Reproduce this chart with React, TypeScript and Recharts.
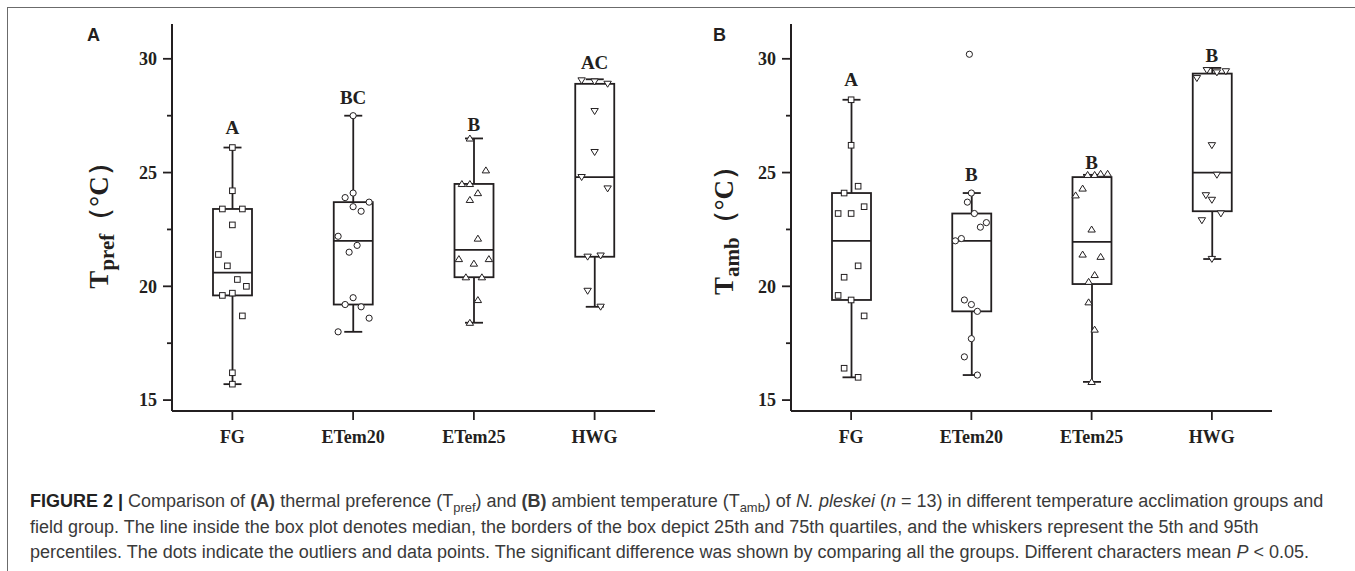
import React from 'react';
import { ComposedChart, Bar, Scatter, XAxis, YAxis } from 'recharts';

// ---------- data ----------
const categories = ['FG', 'ETem20', 'ETem25', 'HWG'];
const yTicks = [15, 17.5, 20, 22.5, 25, 27.5, 30];

// Panel A: thermal preference (Tpref)
const prefLow = [15.7, 18.0, 18.4, 19.1];
const prefQ1 = [19.6, 19.2, 20.4, 21.3];
const prefMedian = [20.6, 22.0, 21.6, 24.8];
const prefQ3 = [23.4, 23.7, 24.5, 28.9];
const prefHigh = [26.1, 27.5, 26.5, 29.1];
const prefLetters = ['A', 'BC', 'B', 'AC'];
const prefLetterY = [27.0, 28.3, 27.1, 29.85];

const fgPref = [26.1, 24.2, 23.4, 23.4, 22.7, 21.4, 20.9, 20.3, 20.0, 19.7, 19.6, 18.7, 16.2, 15.7];
const etem20Pref = [27.5, 24.1, 23.9, 23.7, 23.5, 23.3, 22.2, 21.8, 21.5, 19.5, 19.2, 19.1, 18.6, 18.0];
const etem25Pref = [26.5, 25.1, 24.5, 24.5, 24.1, 23.8, 22.1, 21.2, 21.2, 21.0, 20.4, 20.4, 19.4, 18.4];
const hwgPref = [29.05, 29.0, 28.9, 27.7, 25.9, 24.8, 24.3, 21.3, 21.35, 19.8, 19.1];

// Panel B: ambient temperature (Tamb)
const ambLow = [16.0, 16.1, 15.8, 21.2];
const ambQ1 = [19.4, 18.9, 20.1, 23.3];
const ambMedian = [22.0, 22.0, 21.95, 25.0];
const ambQ3 = [24.1, 23.2, 24.8, 29.35];
const ambHigh = [28.2, 24.1, 24.9, 29.6];
const ambLetters = ['A', 'B', 'B', 'B'];
const ambLetterY = [29.1, 24.9, 25.45, 30.15];

const fgAmb = [28.2, 26.2, 24.4, 24.1, 23.5, 23.2, 23.2, 20.9, 20.4, 19.6, 19.4, 18.7, 16.4, 16.0];
const etem20Amb = [30.2, 24.1, 23.7, 23.2, 22.8, 22.6, 22.1, 22.0, 19.4, 19.2, 18.9, 17.7, 16.9, 16.1];
const etem25Amb = [24.9, 24.9, 24.95, 24.95, 24.3, 24.0, 22.5, 21.4, 21.3, 20.5, 20.2, 19.3, 18.1, 15.8];
const hwgAmb = [29.5, 29.4, 29.45, 29.15, 26.2, 24.9, 24.0, 23.8, 23.2, 22.9, 21.2];

// horizontal jitter of the dots (pixels)
const fgPrefJitter = [0, 0, -10, 10, 0, -14, -5, 5, 14, 0, -10, 10, 0, 0];
const etem20PrefJitter = [0, 0, -8, 16, 0, 8, -15, 4, -4, 0, -8, 8, 16, -15];
const etem25PrefJitter = [-4, 12, -12, -4, 4, -4, 4, -15, 15, 0, -8, 8, 4, -4];
const hwgPrefJitter = [-13, 0, 13, 0, 0, -13, 13, -7, 6, -7, 6];
const fgAmbJitter = [0, 0, 7, -7, 13, -13, 0, 7, -7, -13, 0, 13, -7, 7];
const etem20AmbJitter = [-2, 0, -4, 3, 15, 9, -10, -16, -7, 0, 6, 0, -7, 6];
const etem25AmbJitter = [-4, 3, 9, 16, -9, -16, 0, -9, 9, 3, -3, -3, 3, 0];
const hwgAmbJitter = [-5, 5, 14, -15, 0, 5, -6, 0, 9, -10, 0];

// ---------- styles ----------
const INK = '#231f20';
const SERIF = '"Liberation Serif", "Times New Roman", serif';
const SANS = '"Liberation Sans", Arial, sans-serif';
const Y_DOMAIN: [number, number] = [14.52, 31.53];

type Summary = { group: string; range: number[]; low: number; q1: number; median: number; q3: number; high: number };

function buildSummary(low: number[], q1: number[], med: number[], q3: number[], high: number[]): Summary[] {
  return categories.map((group, i) => ({
    group,
    range: [low[i], high[i]],
    low: low[i],
    q1: q1[i],
    median: med[i],
    q3: q3[i],
    high: high[i],
  }));
}

function buildPoints(group: string, values: number[], jitter: number[]) {
  return values.map((value, i) => ({ group, value, jitter: jitter[i] ?? 0 }));
}

function buildLetters(letters: string[], ys: number[]) {
  return categories.map((group, i) => ({ group, value: ys[i], letter: letters[i] }));
}

const BoxShape = (props: any) => {
  const { x, y, width, height } = props;
  const p = props.payload ?? props;
  const top = Math.min(y, y + height);
  const h = Math.abs(height);
  const yOf = (v: number) => top + (h * (p.high - v)) / (p.high - p.low);
  const cx = x + width / 2;
  const cap = 9;
  return (
    <g stroke={INK} strokeWidth={1.8} fill="none">
      <line x1={cx} x2={cx} y1={yOf(p.high)} y2={yOf(p.q3)} />
      <line x1={cx} x2={cx} y1={yOf(p.q1)} y2={yOf(p.low)} />
      <line x1={cx - cap} x2={cx + cap} y1={yOf(p.high)} y2={yOf(p.high)} />
      <line x1={cx - cap} x2={cx + cap} y1={yOf(p.low)} y2={yOf(p.low)} />
      <rect x={x} y={yOf(p.q3)} width={width} height={yOf(p.q1) - yOf(p.q3)} fill="#fff" />
      <line x1={x} x2={x + width} y1={yOf(p.median)} y2={yOf(p.median)} />
    </g>
  );
};

const makeMarker = (kind: string) => (props: any) => {
  const { cx, cy } = props;
  const p = props.payload ?? props;
  if (cx == null || cy == null) return <g />;
  const x = cx + (p.jitter ?? 0);
  const common = { stroke: INK, strokeWidth: 1, fill: '#fff' };
  if (kind === 'square') return <rect x={x - 2.8} y={cy - 2.8} width={5.6} height={5.6} {...common} />;
  if (kind === 'circle') return <circle cx={x} cy={cy} r={3.1} {...common} />;
  if (kind === 'up')
    return <polygon points={`${x},${cy - 3.4} ${x + 3.7},${cy + 2.6} ${x - 3.7},${cy + 2.6}`} {...common} />;
  return <polygon points={`${x},${cy + 3.4} ${x + 3.7},${cy - 2.6} ${x - 3.7},${cy - 2.6}`} {...common} />;
};

const LetterShape = (props: any) => {
  const { cx, cy } = props;
  const p = props.payload ?? props;
  if (cx == null || cy == null) return <g />;
  return (
    <text x={cx} y={cy} dy="0.35em" textAnchor="middle" fontFamily={SERIF} fontWeight="bold" fontSize={19} fill={INK}>
      {p.letter}
    </text>
  );
};

const YTick = (props: any) => {
  const { x, y, payload } = props;
  const major = payload.value % 5 === 0;
  return (
    <g>
      <line x1={x - (major ? 9 : 5)} x2={x} y1={y} y2={y} stroke={INK} strokeWidth={1.8} />
      {major && (
        <text x={x - 15} y={y} dy="0.35em" textAnchor="end" fontFamily={SERIF} fontWeight="bold" fontSize={18} fill={INK}>
          {payload.value}
        </text>
      )}
    </g>
  );
};

const XTick = (props: any) => {
  const { x, y, payload } = props;
  return (
    <g>
      <line x1={x} x2={x} y1={y} y2={y + 9} stroke={INK} strokeWidth={1.8} />
      <text x={x} y={y + 32} textAnchor="middle" fontFamily={SERIF} fontWeight="bold" fontSize={18} fill={INK}>
        {payload.value}
      </text>
    </g>
  );
};

const AxisTitle = (props: any) => {
  const { sub, bx, cy } = props;
  return (
    <text
      x={bx}
      y={cy}
      transform={`rotate(-90, ${bx}, ${cy})`}
      textAnchor="middle"
      fontFamily={SERIF}
      fontWeight="bold"
      fill={INK}
    >
      <tspan fontSize={27}>T</tspan>
      <tspan fontSize={21} dy={6}>{sub}</tspan>
      <tspan fontSize={27} dy={-6}>（°C）</tspan>
    </text>
  );
};

type PanelProps = {
  width: number;
  yAxisWidth: number;
  marginRight: number;
  summary: Summary[];
  points: { data: any[]; kind: string }[];
  letters: any[];
  sub: string;
  titleX: number;
  titleY: number;
};

const Panel = ({ width, yAxisWidth, marginRight, summary, points, letters, sub, titleX, titleY }: PanelProps) => (
  <ComposedChart
    width={width}
    height={460}
    data={summary}
    margin={{ top: 24, right: marginRight, bottom: 0, left: 0 }}
  >
    <XAxis
      dataKey="group"
      type="category"
      allowDuplicatedCategory={false}
      height={49}
      axisLine={{ stroke: INK, strokeWidth: 2 }}
      tickLine={false}
      tickSize={0}
      tickMargin={0}
      tick={<XTick />}
      interval={0}
    />
    <YAxis
      type="number"
      domain={Y_DOMAIN}
      allowDataOverflow
      ticks={yTicks}
      width={yAxisWidth}
      axisLine={{ stroke: INK, strokeWidth: 2 }}
      tickLine={false}
      tickSize={0}
      tickMargin={0}
      tick={<YTick />}
      interval={0}
      label={<AxisTitle sub={sub} bx={titleX} cy={titleY} />}
    />
    <Bar dataKey="range" barSize={39} shape={<BoxShape />} isAnimationActive={false} />
    {points.map((s, i) => (
      <Scatter key={i} data={s.data} dataKey="value" shape={makeMarker(s.kind)} isAnimationActive={false} />
    ))}
    <Scatter data={letters} dataKey="value" shape={<LetterShape />} isAnimationActive={false} />
  </ComposedChart>
);

const prefSummary = buildSummary(prefLow, prefQ1, prefMedian, prefQ3, prefHigh);
const ambSummary = buildSummary(ambLow, ambQ1, ambMedian, ambQ3, ambHigh);

const prefPoints = [
  { data: buildPoints('FG', fgPref, fgPrefJitter), kind: 'square' },
  { data: buildPoints('ETem20', etem20Pref, etem20PrefJitter), kind: 'circle' },
  { data: buildPoints('ETem25', etem25Pref, etem25PrefJitter), kind: 'up' },
  { data: buildPoints('HWG', hwgPref, hwgPrefJitter), kind: 'down' },
];
const ambPoints = [
  { data: buildPoints('FG', fgAmb, fgAmbJitter), kind: 'square' },
  { data: buildPoints('ETem20', etem20Amb, etem20AmbJitter), kind: 'circle' },
  { data: buildPoints('ETem25', etem25Amb, etem25AmbJitter), kind: 'up' },
  { data: buildPoints('HWG', hwgAmb, hwgAmbJitter), kind: 'down' },
];

const captionStyle: React.CSSProperties = {
  position: 'absolute',
  left: 30,
  whiteSpace: 'nowrap',
  fontFamily: SANS,
  fontSize: 18,
  color: '#3a3a3a',
  lineHeight: '25.5px',
};
const subStyle: React.CSSProperties = { fontSize: '0.72em', lineHeight: 0 };

export default function App() {
  return (
    <div style={{ position: 'relative', width: 1355, height: 571, background: '#fff', overflow: 'hidden' }}>
      <style>{'body{margin:0}'}</style>
      <div
        style={{
          position: 'absolute',
          left: 7,
          top: 7,
          width: 1355,
          height: 571,
          borderTop: '1.5px solid #6b6b6b',
          borderLeft: '1.5px solid #6b6b6b',
        }}
      />
      <div style={{ position: 'absolute', left: 0, top: 0 }}>
        <Panel
          width={665}
          yAxisWidth={172}
          marginRight={10}
          summary={prefSummary}
          points={prefPoints}
          letters={buildLetters(prefLetters, prefLetterY)}
          sub="pref"
          titleX={108}
          titleY={219}
        />
      </div>
      <div style={{ position: 'absolute', left: 680, top: 0 }}>
        <Panel
          width={600}
          yAxisWidth={111}
          marginRight={8}
          summary={ambSummary}
          points={ambPoints}
          letters={buildLetters(ambLetters, ambLetterY)}
          sub="amb"
          titleX={53}
          titleY={224}
        />
      </div>
      <div style={{ position: 'absolute', left: 87, top: 25, fontFamily: SANS, fontWeight: 'bold', fontSize: 18, color: INK }}>A</div>
      <div style={{ position: 'absolute', left: 713, top: 25, fontFamily: SANS, fontWeight: 'bold', fontSize: 18, color: INK }}>B</div>
      <div style={{ ...captionStyle, top: 489 }}>
        <b style={{ color: '#222' }}>FIGURE 2 |</b> Comparison of <b>(A)</b> thermal preference (T<sub style={subStyle}>pref</sub>) and{' '}
        <b>(B)</b> ambient temperature (T<sub style={subStyle}>amb</sub>) of <i>N. pleskei</i> (<i>n</i> = 13) in different
        temperature acclimation groups and
      </div>
      <div style={{ ...captionStyle, top: 514.5 }}>
        field group. The line inside the box plot denotes median, the borders of the box depict 25th and 75th quartiles, and the whiskers represent the 5th and 95th
      </div>
      <div style={{ ...captionStyle, top: 540 }}>
        percentiles. The dots indicate the outliers and data points. The significant difference was shown by comparing all the groups. Different characters mean{' '}
        <i>P</i> &lt; 0.05.
      </div>
    </div>
  );
}
